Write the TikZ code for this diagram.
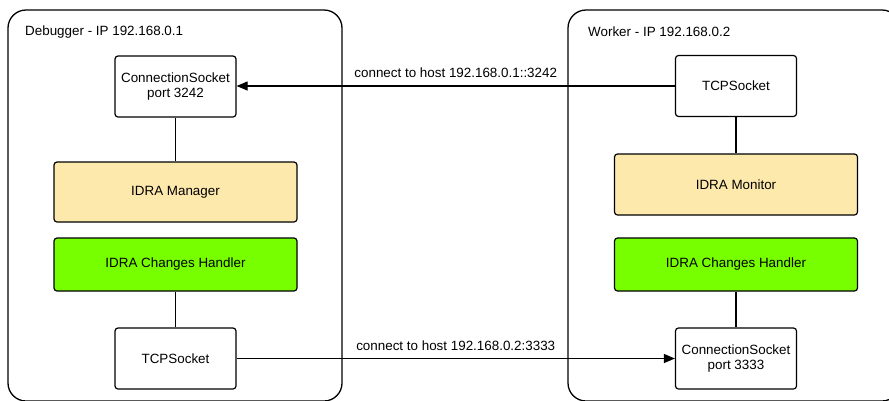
\documentclass[tikz,border=0pt]{standalone}
\usepackage{fontspec}
\setmainfont{Liberation Sans}
\usetikzlibrary{arrows.meta}
\definecolor{mgrfill}{HTML}{FEE9AD}
\definecolor{chfill}{HTML}{77FF00}
\begin{document}
\begin{tikzpicture}[x=1pt,y=-1pt,
  every node/.style={font=\fontsize{13.4}{15.5}\selectfont},
  host/.style={draw, line width=1.3pt, rounded corners=18pt},
  box/.style={draw, line width=1.2pt, rounded corners=3pt, align=center, inner sep=0pt},
  sock/.style={box, fill=white, minimum width=121pt, minimum height=61pt},
  wide/.style={box, minimum width=243pt},
  link/.style={line width=1.1pt},
  msg/.style={line width=1.1pt, -{Triangle[length=11pt,width=9pt]}},
  title/.style={anchor=west, inner sep=0pt}]
  \useasboundingbox (0,0) rectangle (889,400);
  \clip (0,0) rectangle (889,400);

  % host frames
  \draw[host] (8,10) rectangle (342,401);
  \draw[host] (568,10) rectangle (900,401);
  \node[title] (t1) at (25,32) {Debugger - IP 192.168.0.1};
  \node[title] (t2) at (588,32) {Worker - IP 192.168.0.2};

  % debugger side
  \node[sock] (cs1) at (175.5,86.5) {ConnectionSocket\\port 3242};
  \node[wide, fill=mgrfill, minimum height=60pt] (mgr) at (175.5,192) {IDRA Manager};
  \node[wide, fill=chfill, minimum height=53pt] (ch1) at (175.5,264.5) {IDRA Changes Handler};
  \node[sock] (tcp1) at (175.5,358.5) {TCPSocket};

  % worker side
  \node[sock] (tcp2) at (736,86) {TCPSocket};
  \node[wide, fill=mgrfill, minimum height=61pt] (mon) at (736,184.5) {IDRA Monitor};
  \node[wide, fill=chfill, minimum height=53pt] (ch2) at (736,264.5) {IDRA Changes Handler};
  \node[sock] (cs2) at (736,358.5) {ConnectionSocket\\port 3333};

  % internal links
  \draw[link] (cs1) -- (mgr);
  \draw[link] (ch1) -- (tcp1);
  \draw[link] (tcp2) -- (mon);
  \draw[link] (ch2) -- (cs2);

  % connections between hosts
  \draw[msg] (tcp2.west) -- node[midway, yshift=13pt] (l1) {connect to host 192.168.0.1::3242} (cs1.east |- tcp2.west);
  \draw[msg] (tcp1.east) -- node[midway, yshift=13pt] (l2) {connect to host 192.168.0.2:3333} (cs2.west |- tcp1.east);
\end{tikzpicture}
\end{document}
